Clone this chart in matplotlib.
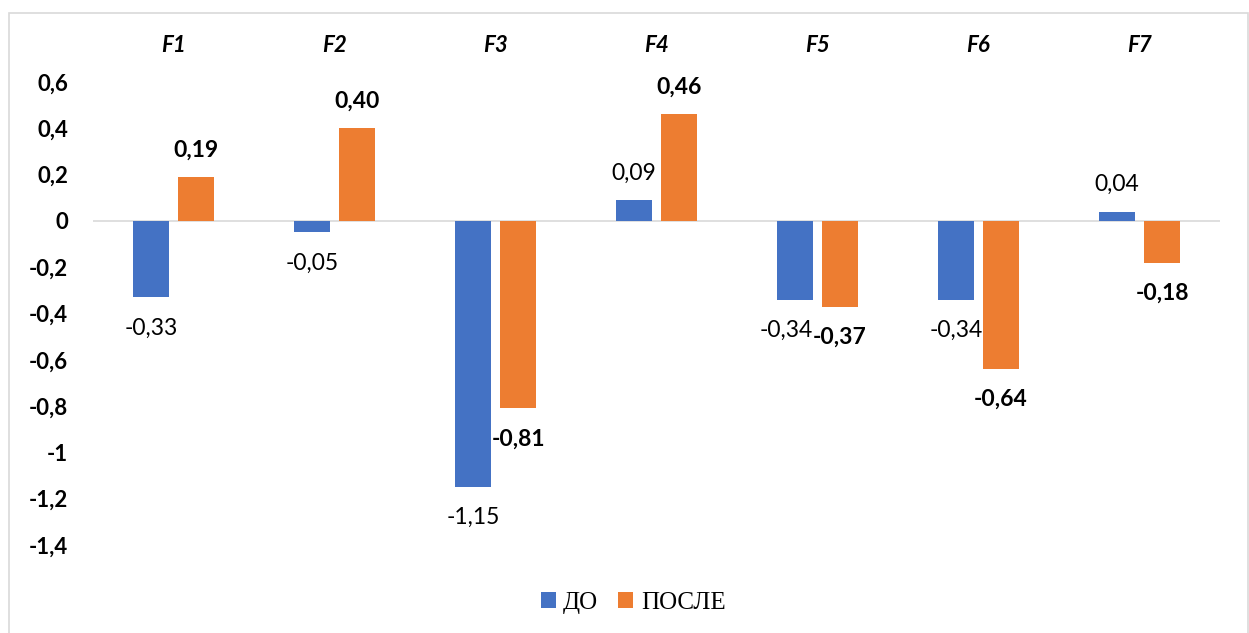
import numpy as np
import matplotlib as mpl
from matplotlib import pyplot as plt
from matplotlib.patches import Rectangle

mpl.rcParams['font.family'] = ['Lato', 'DejaVu Sans']

# data
categories = ['F1', 'F2', 'F3', 'F4', 'F5', 'F6', 'F7']
before = [-0.33, -0.05, -1.15, 0.09, -0.34, -0.34, 0.04]   # ДО
after = [0.19, 0.40, -0.81, 0.46, -0.37, -0.64, -0.18]     # ПОСЛЕ
series_names = ['ДО', 'ПОСЛЕ']
yticks = [0.6, 0.4, 0.2, 0, -0.2, -0.4, -0.6, -0.8, -1, -1.2, -1.4]
ytick_labels = ['0,6', '0,4', '0,2', '0', '-0,2', '-0,4', '-0,6', '-0,8', '-1', '-1,2', '-1,4']

blue = '#4472C4'
orange = '#ED7D31'

fig = plt.figure(figsize=(12.49, 6.33), dpi=100)
fig.patches.append(Rectangle((9/1249, -0.05), 1239/1249, 1.05 - 13/633,
                             transform=fig.transFigure, fill=False,
                             edgecolor='#D9D9D9', linewidth=1.2))

ax = fig.add_axes([93/1249, 1 - 545/633, 1127/1249, 463/633])

x = np.arange(len(categories))
w = 0.223
off = 0.14
b1 = ax.bar(x - off, before, w, color=blue, label=series_names[0], zorder=2)
b2 = ax.bar(x + off, after, w, color=orange, label=series_names[1], zorder=2)

ax.axhline(0, color='#D9D9D9', linewidth=1.2, zorder=1)

def fmt(v):
    return f'{v:.2f}'.replace('.', ',')

# F5 labels sit side by side, nudge the ДО one left a bit
nudge = {('normal', 4): -6}

for xs, vals, weight in [(x - off, before, 'normal'), (x + off, after, 'bold')]:
    for i, (xi, v) in enumerate(zip(xs, vals)):
        dy = 19.5 if v >= 0 else -22
        dx = nudge.get((weight, i), 0)
        ax.annotate(fmt(v), (xi, v), xytext=(dx, dy), textcoords='offset points',
                    ha='center', va='center', fontsize=16.5, fontweight=weight,
                    color='black')

ax.set_xlim(-0.5, len(categories) - 0.5)
ax.set_ylim(-1.4, 0.6)
ax.set_yticks(yticks)
ax.set_yticklabels(ytick_labels, fontsize=16, fontweight='bold')
ax.xaxis.tick_top()
ax.set_xticks(x)
ax.set_xticklabels(categories, fontsize=16, fontweight='bold', style='italic')
ax.tick_params(axis='y', length=0, pad=18)
ax.tick_params(axis='x', length=0, pad=19)
for s in ax.spines.values():
    s.set_visible(False)

leg = fig.legend(handles=[b1, b2], labels=series_names, loc='center',
                 bbox_to_anchor=(633/1249, 1 - 603/633), ncol=2, frameon=False,
                 prop={'family': 'Liberation Serif', 'size': 18},
                 handlelength=0.6, handleheight=0.6, handletextpad=0.3,
                 columnspacing=0.8)

fig.savefig('out.png', dpi=100)
